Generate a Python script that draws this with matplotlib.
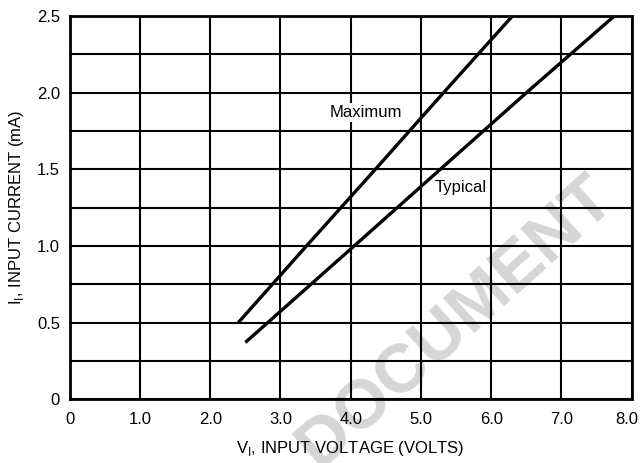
import numpy as np
import matplotlib
matplotlib.use("Agg")
import matplotlib.pyplot as plt
import matplotlib.transforms as mtransforms

plt.rcParams['font.family'] = ['Liberation Sans', 'DejaVu Sans']

# input voltage (V) / input current (mA)
v_max = [2.4, 3.37, 4.35, 5.32, 6.3]
i_max = [0.5, 1.0, 1.5, 2.0, 2.5]

v_typ = [2.5, 4.0, 5.25, 6.5, 7.75]
i_typ = [0.37, 0.98, 1.49, 2.0, 2.5]

x_ticks = [0, 1, 2, 3, 4, 5, 6, 7, 8]
x_labels = ['0', '1.0', '2.0', '3.0', '4.0', '5.0', '6.0', '7.0', '8.0']
y_ticks = [0, 0.5, 1.0, 1.5, 2.0, 2.5]
y_labels = ['0', '0.5', '1.0', '1.5', '2.0', '2.5']

fig = plt.figure(figsize=(6.4, 4.63), dpi=100)
ax = fig.add_axes([0.109, 0.138, 0.878, 0.827])
ax.patch.set_alpha(0)

# faint scan watermark behind the grid
fig.text(0.712, 0.305, 'DOCUMENT', fontsize=50, fontweight='bold', color='#d6d6d6',
         rotation=42, ha='center', va='center', zorder=-1)

ax.plot(v_max, i_max, color='black', lw=2.4, solid_capstyle='butt', zorder=3)
ax.plot(v_typ, i_typ, color='black', lw=2.4, solid_capstyle='butt', zorder=3)

ax.set_xlim(0, 8)
ax.set_ylim(0, 2.5)
ax.set_xticks(x_ticks)
ax.set_xticklabels(x_labels)
ax.set_yticks(y_ticks)
ax.set_yticklabels(y_labels)
ax.set_yticks(np.arange(0, 2.51, 0.25), minor=True)
ax.grid(True, which='major', color='black', lw=1.5)
ax.grid(True, which='minor', axis='y', color='black', lw=1.5)
ax.tick_params(which='both', length=0, labelsize=12)
ax.tick_params(axis='x', pad=9)
ax.tick_params(axis='y', pad=7)
for s in ax.spines.values():
    s.set_linewidth(2)

# last x label sits just inside the figure edge
last = ax.get_xticklabels()[-1]
last.set_transform(last.get_transform() + mtransforms.ScaledTranslation(-5 / 100, 0, fig.dpi_scale_trans))

box = dict(facecolor='white', edgecolor='none', pad=1.5)
ax.text(4.21, 1.87, 'Maximum', fontsize=12, ha='center', va='center', bbox=box, zorder=4)
ax.text(5.57, 1.38, 'Typical', fontsize=12, ha='center', va='center', bbox=box, zorder=4)

ax.set_xlabel('V$_\\mathregular{I}$, INPUT VOLTAGE (VOLTS)', fontsize=12, labelpad=9)
ax.set_ylabel('I$_\\mathregular{I}$, INPUT CURRENT (mA)', fontsize=12, labelpad=8)

fig.savefig('out.png', dpi=100)
